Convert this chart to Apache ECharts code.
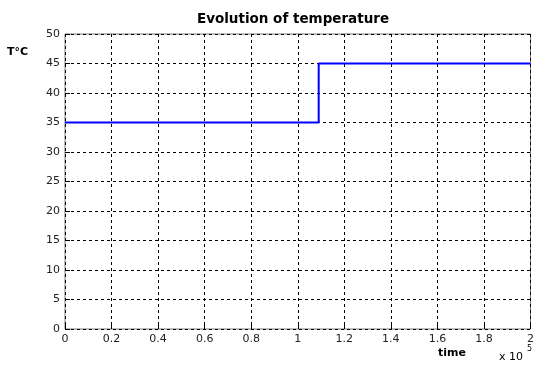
<!DOCTYPE html>
<html>
<head>
<meta charset="utf-8">
<script src="https://cdn.jsdelivr.net/npm/echarts@6/dist/echarts.min.js"></script>
<style>
  html, body { margin: 0; padding: 0; background: #fff; }
  #chart { width: 537px; height: 365px; }
</style>
</head>
<body>
<div id="chart"></div>
<script>
// Temperature set-point over time (time in units of 1e5)
const timePoints = [0, 1.09, 2];
const temperature = [35, 45, 45];
const xTicks = [0, 0.2, 0.4, 0.6, 0.8, 1, 1.2, 1.4, 1.6, 1.8, 2];
const yTicks = [0, 5, 10, 15, 20, 25, 30, 35, 40, 45, 50];

const font = '"DejaVu Sans", Verdana, sans-serif';
const chart = echarts.init(document.getElementById('chart'), null, { renderer: 'canvas' });

const lineData = timePoints.map((t, i) => [t, temperature[i]]);

// free-standing text helper: anchored at (x, y)
function label(text, x, y, css, align) {
  return {
    type: 'text', x: x, y: y,
    style: { text: text, font: css, fill: '#000', align: align || 'left', verticalAlign: 'middle' }
  };
}

chart.setOption({
  animation: false,
  backgroundColor: '#fff',
  graphic: [
    label('Evolution of temperature', 293, 19, 'bold 13.5px ' + font, 'center'),
    label('T°C', 7, 52, 'bold 11px ' + font),
    label('time', 438, 353, 'bold 11px ' + font),
    label('x 10', 499, 357, '11px ' + font),
    label('5', 527, 349, '8px ' + font)
  ],
  grid: {
    left: 65, right: 6, top: 34, bottom: 36,
    show: true, borderColor: '#7a7a7a', borderWidth: 1, backgroundColor: '#fff'
  },
  xAxis: {
    type: 'value', min: xTicks[0], max: xTicks[xTicks.length - 1], interval: 0.2,
    axisLine: { show: false },
    axisTick: { show: true, inside: true, length: 5, lineStyle: { color: '#000' } },
    axisLabel: {
      fontFamily: font, fontSize: 11, color: '#222', margin: 5,
      formatter: v => String(Math.round(v * 10) / 10)
    },
    splitLine: { show: true, lineStyle: { color: '#000', type: [3, 3], width: 1 } }
  },
  yAxis: {
    type: 'value', min: yTicks[0], max: yTicks[yTicks.length - 1], interval: 5,
    axisLine: { show: false },
    axisTick: { show: true, inside: true, length: 5, lineStyle: { color: '#000' } },
    axisLabel: { fontFamily: font, fontSize: 11, color: '#222', margin: 5 },
    splitLine: { show: true, lineStyle: { color: '#000', type: [3, 3], width: 1 } }
  },
  series: [{
    type: 'line',
    data: lineData,
    step: 'end',
    showSymbol: false,
    lineStyle: { color: '#0000ff', width: 2 },
    z: 5
  }]
});
</script>
</body>
</html>
